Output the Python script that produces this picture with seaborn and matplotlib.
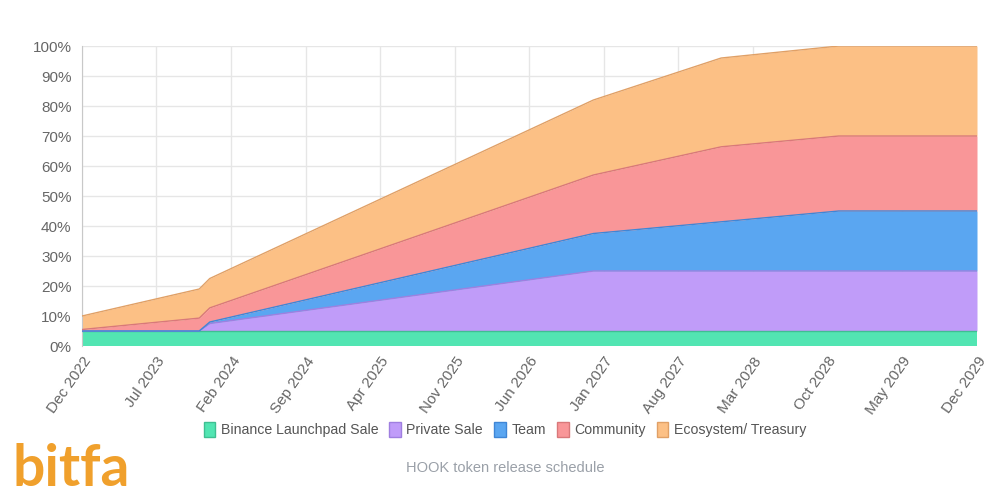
# HOOK token release schedule - stacked area chart
import pandas as pd
import seaborn as sns
import matplotlib.pyplot as plt
import matplotlib.dates as mdates
from matplotlib.patches import Patch

# key dates where the vesting curves bend
dates = ['2022-12-01', '2023-11-01', '2023-12-01', '2026-12-01',
         '2027-12-01', '2028-11-01', '2029-12-01']

# percent of total supply unlocked per allocation
binance = [5, 5, 5, 5, 5, 5, 5]
private_sale = [0, 0, 2.5, 20, 20, 20, 20]
team = [0, 0, 0.5, 12.5, 16.4, 20, 20]
community = [0.5, 4.3, 4.7, 19.5, 25, 25, 25]
ecosystem = [4.5, 9.7, 9.8, 25, 29.6, 30, 30]

labels = ['Binance Launchpad Sale', 'Private Sale', 'Team', 'Community', 'Ecosystem/ Treasury']
fills = ['#52e5b2', '#c09cf9', '#5aa6f1', '#f99698', '#fcc085']
edges = ['#3fbf92', '#9f7fe0', '#3f86d6', '#d9787a', '#e0a066']

tick_dates = ['2022-12-01', '2023-07-01', '2024-02-01', '2024-09-01', '2025-04-01',
              '2025-11-01', '2026-06-01', '2027-01-01', '2027-08-01', '2028-03-01',
              '2028-10-01', '2029-05-01', '2029-12-01']

df = pd.DataFrame({'date': pd.to_datetime(dates)})
for name, vals in zip(labels, [binance, private_sale, team, community, ecosystem]):
    df[name] = vals

sns.set_style('white')
plt.rcParams['font.family'] = ['Liberation Sans', 'DejaVu Sans']

fig = plt.figure(figsize=(10, 4.98), dpi=100)
ax = fig.add_axes([0.082, 0.3052, 0.895, 0.6024])

# stack the series: fill each band and trace its upper edge
base = pd.Series(0.0, index=df.index)
for name, fc, ec in zip(labels, fills, edges):
    top = base + df[name]
    ax.fill_between(df['date'], base, top, color=fc, lw=0, zorder=2)
    sns.lineplot(x=df['date'], y=top, color=ec, lw=1, ax=ax, zorder=3)
    base = top

ax.set_xlim(pd.Timestamp('2022-12-01'), pd.Timestamp('2029-12-01'))
ax.set_ylim(0, 100)
ax.set_yticks(range(0, 101, 10))
ax.set_yticklabels([f'{v}%' for v in range(0, 101, 10)])
ax.set_xticks(pd.to_datetime(tick_dates))
ax.xaxis.set_major_formatter(mdates.DateFormatter('%b %Y'))
plt.setp(ax.get_xticklabels(), rotation=55, ha='right', rotation_mode='anchor')
ax.set_xlabel('')
ax.set_ylabel('')

ax.grid(True, color='#e6e6e6', lw=1, zorder=0)
ax.set_axisbelow(True)
ax.tick_params(axis='both', colors='#666666', labelsize=11, length=4, width=1)
ax.tick_params(axis='x', length=0, pad=6)
for sp in ['top', 'right', 'bottom']:
    ax.spines[sp].set_visible(False)
ax.spines['left'].set_color('#c8c8c8')

handles = [Patch(facecolor=fc, edgecolor=ec, lw=1) for fc, ec in zip(fills, edges)]
fig.legend(handles, labels, loc='center', bbox_to_anchor=(0.505, 0.137), ncol=5,
           frameon=False, fontsize=10.2, handlelength=0.8, handleheight=1.2,
           handletextpad=0.4, columnspacing=0.8, labelcolor='#555555')

fig.text(0.505, 0.06, 'HOOK token release schedule', ha='center', va='center',
         fontsize=10.5, color='#9aa0a8')
fig.text(0.012, 0.058, 'bitfa', ha='left', va='center', fontsize=41,
         fontweight='bold', color='#f0a02c', family=['Lato', 'DejaVu Sans'])

fig.savefig('out.png', dpi=100)
